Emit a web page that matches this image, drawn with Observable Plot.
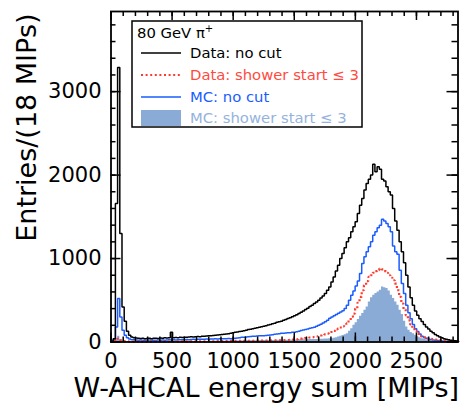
<!DOCTYPE html>
<html>
<head>
<meta charset="utf-8">
<script src="https://cdn.jsdelivr.net/npm/d3@7"></script>
<script src="https://cdn.jsdelivr.net/npm/@observablehq/plot@0.6"></script>
<style>
  html, body { margin: 0; padding: 0; background: white; }
</style>
</head>
<body>
<div id="chart"></div>
<script>
const BIN = 18; // MIPs per bin
const xMajor = [0, 500, 1000, 1500, 2000, 2500];
const yMajor = [0, 1000, 2000, 3000];
const legendLabels = ["Data: no cut", "Data: shower start ≤ 3", "MC: no cut", "MC: shower start ≤ 3"];

const dataNoCut = [
  10, 40, 1660, 3290, 1300, 420, 250, 130, 80, 60,
  50, 48, 45, 42, 44, 40, 42, 45, 40, 44,
  46, 42, 48, 45, 50, 47, 52, 118, 50, 54,
  52, 56, 55, 58, 57, 60, 62, 60, 64, 66,
  64, 68, 70, 72, 74, 76, 78, 80, 84, 86,
  90, 94, 96, 100, 106, 110, 116, 120, 126, 130,
  136, 140, 150, 152, 160, 166, 170, 178, 184, 190,
  196, 204, 210, 218, 226, 236, 244, 250, 262, 270,
  282, 292, 302, 316, 326, 340, 356, 372, 388, 404,
  424, 440, 460, 478, 500, 526, 552, 580, 620, 660,
  720, 780, 850, 920, 1000, 1060, 1130, 1200, 1250, 1320,
  1380, 1440, 1540, 1640, 1720, 1820, 1900, 1950, 2000, 2130,
  2040, 2100, 2070, 1950, 1930, 1860, 1800, 1760, 1600, 1450,
  1340, 1200, 1080, 950, 800, 660, 530, 440, 370, 320,
  280, 245, 210, 180, 155, 130, 110, 90, 75, 60,
  50, 40, 33, 27, 22, 18, 14, 11
];
const dataShower = [
  5, 20, 35, 40, 20, 10, 10, 8, 6, 6,
  5, 6, 5, 6, 5, 6, 7, 6, 5, 6,
  6, 7, 6, 5, 6, 7, 6, 7, 6, 7,
  7, 6, 7, 8, 7, 6, 7, 8, 7, 8,
  7, 8, 9, 8, 9, 10, 9, 10, 11, 10,
  11, 12, 11, 12, 13, 12, 13, 14, 13, 14,
  15, 14, 15, 16, 15, 16, 17, 16, 17, 18,
  17, 18, 18, 19, 19, 20, 20, 21, 22, 23,
  24, 26, 28, 30, 32, 36, 40, 44, 46, 50,
  54, 56, 60, 66, 72, 78, 84, 92, 100, 110,
  120, 134, 148, 160, 174, 188, 204, 222, 260, 300,
  340, 400, 470, 540, 620, 680, 730, 780, 800, 830,
  850, 860, 880, 870, 850, 830, 800, 770, 740, 700,
  620, 540, 460, 390, 320, 260, 210, 170, 130, 105,
  82, 66, 55, 48, 42, 38, 34, 30, 27, 24,
  22, 20, 18, 16, 14, 12, 10, 9
];
const mcNoCut = [
  10, 30, 180, 520, 300, 140, 80, 50, 35, 28,
  26, 24, 22, 24, 22, 20, 22, 24, 22, 20,
  22, 24, 22, 24, 22, 24, 26, 24, 26, 24,
  26, 28, 26, 28, 30, 28, 30, 32, 30, 32,
  34, 32, 34, 36, 34, 36, 36, 38, 36, 38,
  40, 38, 40, 42, 40, 42, 46, 48, 52, 56,
  58, 60, 64, 66, 68, 70, 72, 74, 76, 76,
  78, 80, 84, 88, 92, 96, 100, 104, 106, 108,
  110, 112, 116, 118, 124, 130, 138, 144, 150, 156,
  164, 170, 178, 190, 200, 214, 228, 244, 262, 284,
  300, 316, 330, 344, 360, 374, 400, 440, 500, 560,
  610, 670, 730, 820, 940, 1020, 1080, 1140, 1200, 1280,
  1320, 1370, 1400, 1470, 1450, 1420, 1380, 1320, 1150, 1080,
  1050, 860, 700, 580, 440, 350, 280, 210, 160, 125,
  95, 70, 55, 44, 36, 30, 25, 20, 17, 14,
  12, 10, 9, 8, 7, 6, 5, 5
];
const mcShower = [
  3, 10, 40, 70, 30, 12, 8, 5, 4, 4,
  3, 4, 3, 4, 3, 4, 4, 3, 4, 4,
  4, 4, 5, 4, 4, 5, 4, 5, 5, 4,
  5, 5, 5, 6, 5, 5, 6, 5, 6, 6,
  6, 6, 6, 7, 7, 8, 8, 8, 9, 9,
  10, 10, 10, 11, 11, 12, 12, 12, 13, 13,
  14, 14, 14, 15, 15, 16, 16, 16, 17, 17,
  18, 18, 18, 19, 19, 20, 20, 21, 21, 22,
  22, 23, 24, 24, 25, 26, 26, 27, 28, 28,
  29, 30, 30, 31, 32, 33, 34, 35, 36, 38,
  40, 46, 52, 60, 68, 78, 88, 98, 130, 160,
  200, 230, 270, 310, 340, 380, 420, 480, 530, 560,
  580, 600, 620, 660, 650, 640, 610, 560, 520, 480,
  440, 380, 330, 250, 180, 140, 115, 100, 80, 62,
  50, 40, 34, 28, 24, 20, 16, 13, 11, 9,
  8, 6, 5, 4, 4, 3, 3, 2
];

const W = 461, H = 403;
const mL = 110.5, mR = 3.5, mT = 11, mB = 61.5;
const FW = W - mL - mR, FH = H - mT - mB;
const XMAX = 2840, YMAX = 3960;

const colBlack = "#000000", colRed = "#ff3a2e", colBlue = "#1a5cff", colFill = "#8aabd6";

function steps(vals) {
  const pts = [{x: 0, y: 0}];
  vals.forEach((v, i) => { pts.push({x: i * BIN, y: v}); pts.push({x: (i + 1) * BIN, y: v}); });
  pts.push({x: vals.length * BIN, y: 0});
  return pts;
}

const xMinor = d3.range(0, XMAX, 100);
const yMinor = d3.range(0, YMAX, 200);

const chart = Plot.plot({
  width: W, height: H,
  marginLeft: mL, marginRight: mR, marginTop: mT, marginBottom: mB,
  x: {domain: [0, XMAX]},
  y: {domain: [0, YMAX]},
  style: {fontFamily: "'DejaVu Sans'", fontSize: "21px", background: "white", color: "black"},
  marks: [
    Plot.area(steps(mcShower), {x1: "x", y1: 0, y2: "y", fill: colFill, curve: "linear"}),
    Plot.lineY(steps(mcNoCut), {x: "x", y: "y", stroke: colBlue, strokeWidth: 1.5, strokeLinejoin: "miter", strokeLinecap: "butt"}),
    Plot.lineY(steps(dataShower), {x: "x", y: "y", stroke: colRed, strokeWidth: 2.2, strokeDasharray: "2,2.6", strokeLinecap: "butt", strokeLinejoin: "miter"}),
    Plot.lineY(steps(dataNoCut), {x: "x", y: "y", stroke: colBlack, strokeWidth: 1.5, strokeLinejoin: "miter", strokeLinecap: "butt"}),
    // inward ticks (bottom/top)
    Plot.tickX(xMajor, {x: d => d, insetTop: FH - 9, stroke: "black", strokeWidth: 1.5}),
    Plot.tickX(xMinor, {x: d => d, insetTop: FH - 5, stroke: "black", strokeWidth: 1.5}),
    Plot.tickX(xMajor, {x: d => d, insetBottom: FH - 9, stroke: "black", strokeWidth: 1.5}),
    Plot.tickX(xMinor, {x: d => d, insetBottom: FH - 5, stroke: "black", strokeWidth: 1.5}),
    // inward ticks (left/right)
    Plot.tickY(yMajor, {y: d => d, insetRight: FW - 10, stroke: "black", strokeWidth: 1.5}),
    Plot.tickY(yMinor, {y: d => d, insetRight: FW - 5, stroke: "black", strokeWidth: 1.5}),
    Plot.tickY(yMajor, {y: d => d, insetLeft: FW - 11, stroke: "black", strokeWidth: 1.5}),
    Plot.tickY(yMinor, {y: d => d, insetLeft: FW - 6, stroke: "black", strokeWidth: 1.5}),
    Plot.frame({stroke: "black", strokeWidth: 1.8}),
    Plot.axisX({ticks: xMajor, tickSize: 0, tickPadding: 11, fontSize: 21, label: null, tickFormat: d => String(d)}),
    Plot.axisY({ticks: yMajor, tickSize: 0, tickPadding: 9.5, fontSize: 21, label: null, tickFormat: d => String(d)}),
    Plot.text(["W-AHCAL energy sum [MIPs]"], {frameAnchor: "bottom-right", textAnchor: "end", lineAnchor: "bottom", dx: 1, dy: 55, fontSize: 27, fill: "black"}),
    Plot.text(["Entries/(18 MIPs)"], {frameAnchor: "top-left", rotate: -90, textAnchor: "end", lineAnchor: "middle", dx: 27 - mL, dy: 2, fontSize: 27, fill: "black"})
  ]
});

// legend box
const svg = d3.select(chart);
const lg = svg.append("g").attr("font-family", "'DejaVu Sans'").attr("font-size", 14.8).attr("text-anchor", "start");
lg.append("rect").attr("x", 132).attr("y", 21).attr("width", 230).attr("height", 106)
  .attr("fill", "white").attr("stroke", "black").attr("stroke-width", 1.5);
const t0 = lg.append("text").attr("x", 137).attr("y", 33).attr("dy", "0.35em").attr("fill", "black");
t0.append("tspan").text("80 GeV π");
t0.append("tspan").attr("font-size", 10).attr("dy", "-0.6em").text("+");

const rows = [
  {y: 53, label: legendLabels[0], color: "#000000", kind: "line", stroke: colBlack, dash: null, w: 1.5},
  {y: 75, label: legendLabels[1], color: "#ff4a40", kind: "line", stroke: colRed, dash: "2,2.6", w: 2.2},
  {y: 97, label: legendLabels[2], color: colBlue, kind: "line", stroke: colBlue, dash: null, w: 1.5},
  {y: 118, label: legendLabels[3], color: "#95b3dd", kind: "rect"}
];
rows.forEach(r => {
  if (r.kind === "line") {
    lg.append("line").attr("x1", 141).attr("x2", 181).attr("y1", r.y).attr("y2", r.y)
      .attr("stroke", r.stroke).attr("stroke-width", r.w).attr("stroke-dasharray", r.dash);
  } else {
    lg.append("rect").attr("x", 141).attr("y", 110).attr("width", 40).attr("height", 16).attr("fill", colFill);
  }
  lg.append("text").attr("x", 190).attr("y", r.y).attr("dy", "0.35em").attr("fill", r.color).text(r.label);
});

document.getElementById("chart").appendChild(chart);
</script>
</body>
</html>
